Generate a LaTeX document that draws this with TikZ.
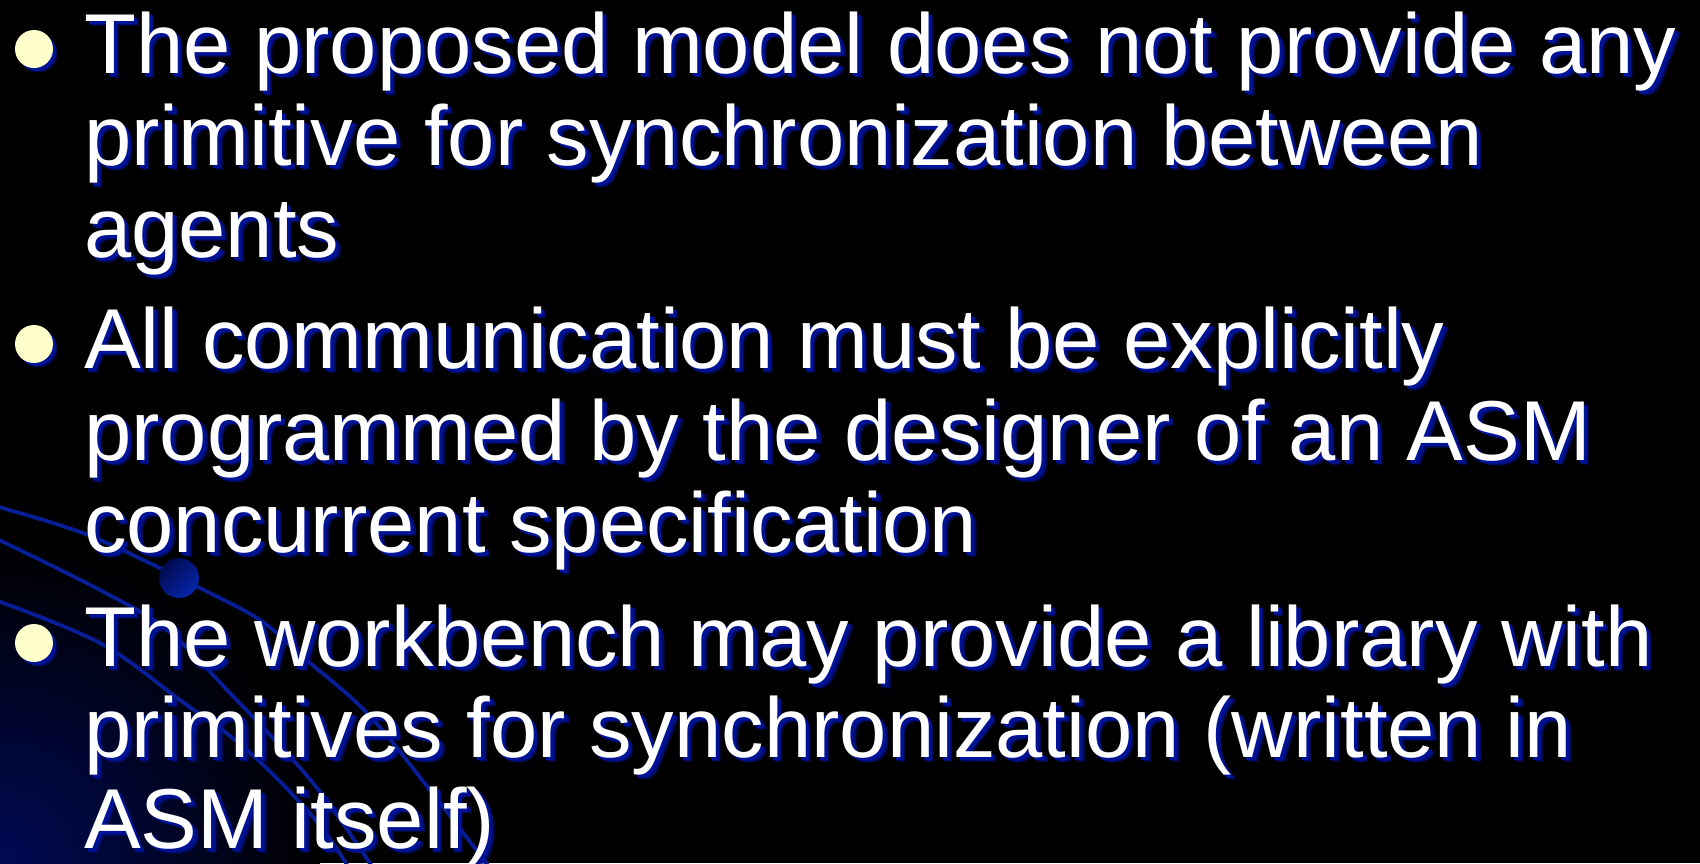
\documentclass[tikz,border=0pt]{standalone}
\usepackage{fontspec}
\setmainfont{Liberation Sans}
\definecolor{curveblue}{RGB}{8,30,150}
\definecolor{shadowblue}{RGB}{0,18,150}
\definecolor{bulletfill}{RGB}{255,255,204}
\definecolor{glowblue}{RGB}{0,10,84}
\definecolor{dotdark}{RGB}{0,10,78}
\definecolor{dotlight}{RGB}{6,38,170}
\tikzset{
  slidefont/.style={font=\fontsize{85pt}{85pt}\selectfont},
  linetext/.style={slidefont, anchor=base west, inner sep=0pt, text=white},
  lineshadow/.style={slidefont, anchor=base west, inner sep=0pt, text=shadowblue},
  swoosh/.style={draw=curveblue, line width=3.8pt},
  bulletdot/.style={circle, fill=bulletfill, minimum size=38pt, inner sep=0pt},
  bulletshadow/.style={circle, fill=shadowblue, minimum size=38pt, inner sep=0pt},
}
% one line of text: white glyphs over a soft, offset blue copy
\newcommand{\textline}[3]{%
  \node[lineshadow, opacity=0.35] (#1s3) at (89.5,#2+5.5) {#3};
  \node[lineshadow, opacity=0.6] (#1s2) at (88.5,#2+4.5) {#3};
  \node[lineshadow] (#1s) at (87,#2+3) {#3};
  \node[linetext] (#1) at (84,#2) {#3};
}
\newcommand{\bulletat}[2]{%
  \node[bulletshadow, opacity=0.5] (#1s2) at (38.5,#2+4.5) {};
  \node[bulletshadow] (#1s) at (37,#2+3) {};
  \node[bulletdot] (#1) at (34,#2) {};
}
\begin{document}
\begin{tikzpicture}[x=1pt,y=-1pt]
\useasboundingbox (0,0) rectangle (1700,863);
\fill[black] (0,0) rectangle (1700,863);
% glow in the lower left corner
\begin{scope}
  \clip (0,0) rectangle (1700,863);
  \fill[inner color=glowblue, outer color=black] (0,863) circle (320);
\end{scope}
% background swooshes
\begin{scope}
  \clip (0,0) rectangle (1700,863);
  \draw[swoosh] plot[smooth, tension=0.6] coordinates
    {(-5,506) (83,533) (160,568) (200,588) (260,620) (303,657) (367,713) (430,790) (490,868)};
  \draw[swoosh] plot[smooth, tension=0.6] coordinates
    {(-5,538) (100,590) (167,630) (230,693) (313,783) (373,868)};
  \draw[swoosh] plot[smooth, tension=0.6] coordinates
    {(-5,600) (100,643) (180,700) (247,750) (313,817) (349,868)};
\end{scope}
\shade[top color=dotdark, bottom color=dotlight, shading angle=45] (179,578) circle (20);
% bullets
\bulletat{b1}{49}
\bulletat{b2}{344}
\bulletat{b3}{643}
% text
\textline{l1}{73}{The proposed model does not provide any}
\textline{l2}{165}{primitive for synchronization between}
\textline{l3}{257}{agents}
\textline{l4}{368}{All communication must be explicitly}
\textline{l5}{460}{programmed by the designer of an ASM}
\textline{l6}{552}{concurrent specification}
\textline{l7}{666}{The workbench may provide a library with}
\textline{l8}{757}{primitives for synchronization (written in}
\textline{l9}{848}{ASM itself)}
\end{tikzpicture}
\end{document}
